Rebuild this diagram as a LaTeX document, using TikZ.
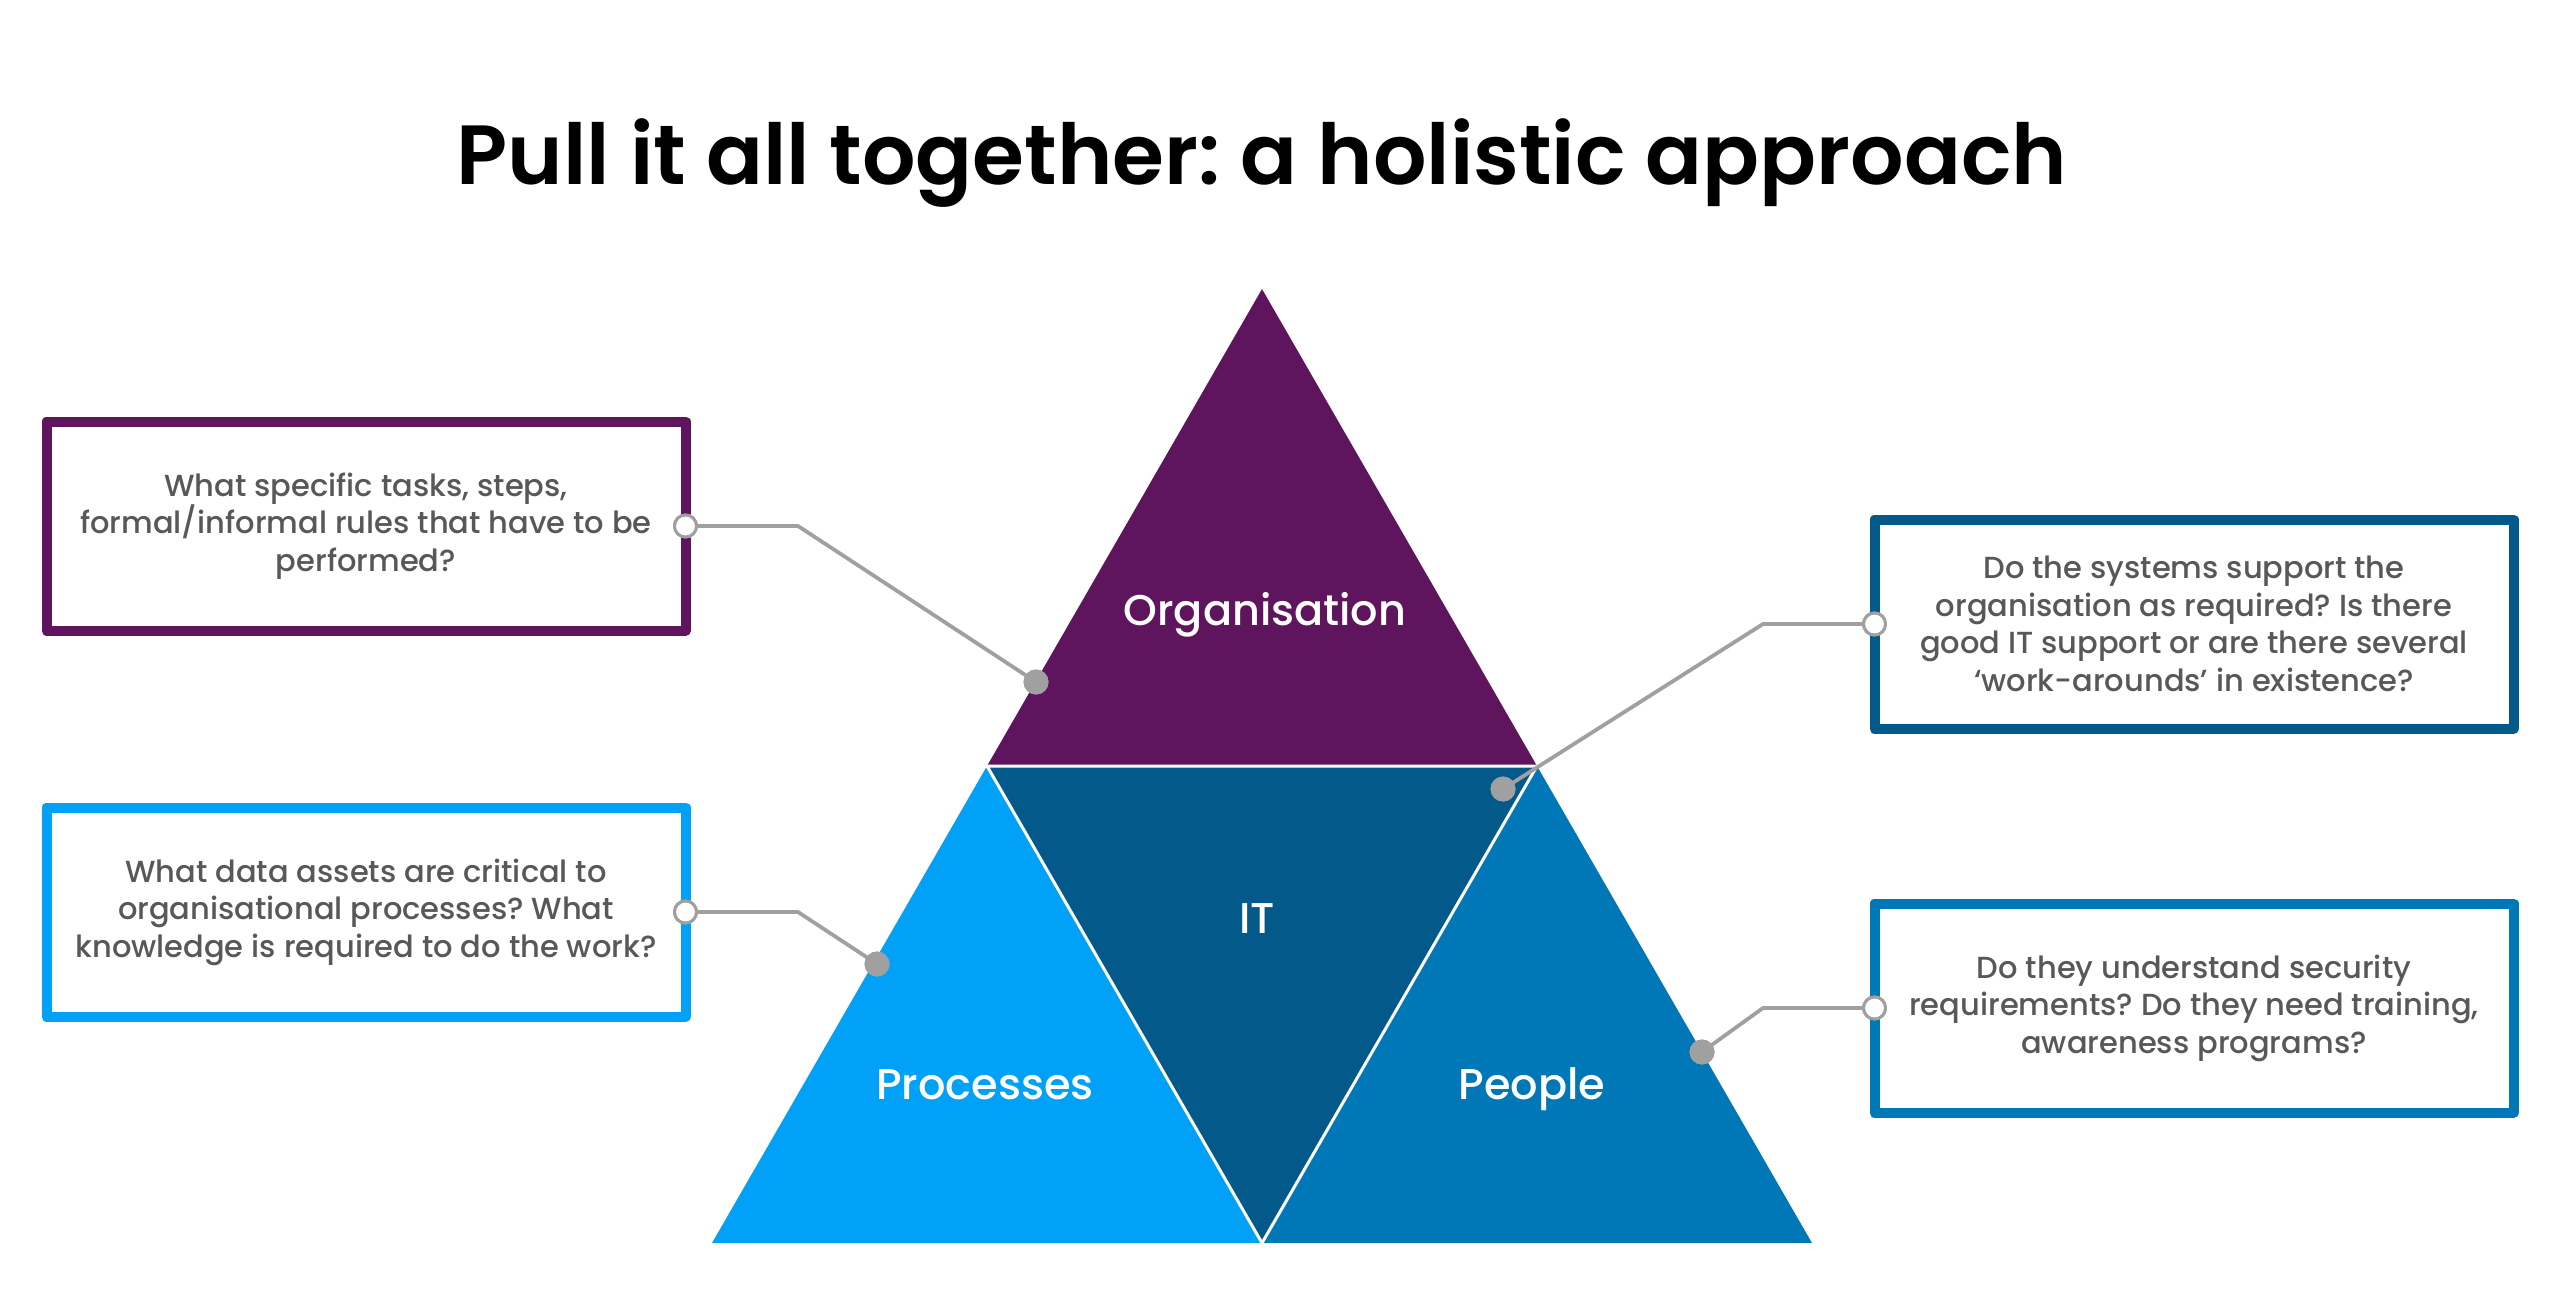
\documentclass[tikz,border=0pt]{standalone}
\usepackage{fontspec}
\setmainfont{Poppins Medium}
\newfontfamily\dam{Poppins SemiBold}
\frenchspacing
\definecolor{tim}{RGB}{95,21,93}
\definecolor{xanhit}{RGB}{3,89,138}
\definecolor{xanhnhat}{RGB}{0,161,246}
\definecolor{xanhdam}{RGB}{0,119,182}
\definecolor{xam}{RGB}{160,160,160}
\definecolor{chu}{RGB}{88,88,90}
\begin{document}
\begin{tikzpicture}[x=1pt,y=-1pt,line join=round,line cap=round]
	\tikzset{hop/.style={draw=#1,line width=10pt,fill=white,minimum width=639pt,minimum height=209pt,
			align=center,text=chu,font=\fontsize{30.5}{37.5}\selectfont,inner sep=0pt,outer sep=0pt},
		nhan/.style={text=white,anchor=base,font=\fontsize{43}{50}\selectfont},
		day/.style={draw=xam,line width=3.8pt},
		cham/.style={fill=xam,circle,minimum size=25pt,inner sep=0pt},
		vong/.style={draw=xam,fill=white,circle,line width=3pt,minimum size=22pt,inner sep=0pt}}
	\useasboundingbox(0,0)rectangle(2560,1295);
	%%% Tieu de
	\node[anchor=base](tieude)at(1262,184){\fontsize{84}{100}\selectfont\dam Pull it all together: a holistic approach};
	%%% Tam giac
	\coordinate(A)at(1262,289);
	\coordinate(B)at(987,766);
	\coordinate(C)at(1537,766);
	\coordinate(D)at(712,1243);
	\coordinate(E)at(1262,1243);
	\coordinate(F)at(1812,1243);
	\fill[tim](A)--(B)--(C)--cycle;
	\fill[xanhit](B)--(C)--(E)--cycle;
	\fill[xanhnhat](B)--(D)--(E)--cycle;
	\fill[xanhdam](C)--(E)--(F)--cycle;
	\draw[white,line width=3pt](B)--(C)--(E)--cycle;
	\node[nhan](org)at(1265,625){Organisation};
	\node[nhan](it)at(1257,933){IT};
	\node[nhan](pro)at(985,1099){Processes};
	\node[nhan](peo)at(1532,1099){People};
	%%% Hop chu
	\node[hop=tim](h1)at(366,526){What specific tasks, steps,\\formal/informal rules that have to be\\performed?};
	\node[hop=xanhnhat](h2)at(366,912){What data assets are critical to\\organisational processes? What\\knowledge is required to do the work?};
	\node[hop=xanhit](h3)at(2194,624){Do the systems support the\\organisation as required? Is there\\good IT support or are there several\\‘work-arounds’ in existence?};
	\node[hop=xanhdam](h4)at(2194,1008){Do they understand security\\requirements? Do they need training,\\awareness programs?};
	%%% Day noi
	\node[cham](d1)at(1036,682){};
	\node[cham](d2)at(877,964){};
	\node[cham](d3)at(1503,789){};
	\node[cham](d4)at(1702,1052){};
	\node[vong](v1)at(h1.east){};
	\node[vong](v2)at(h2.east){};
	\node[vong](v3)at(h3.west){};
	\node[vong](v4)at(h4.west){};
	\draw[day](v1.east)--++(100,0)--(d1.center);
	\draw[day](v2.east)--++(100,0)--(d2.center);
	\draw[day](v3.west)--++(-99,0)--(d3.center);
	\draw[day](v4.west)--++(-99,0)--(d4.center);
	\foreach \i in{1,...,4}{\node[cham]at(d\i){};\node[vong]at(v\i){};}
\end{tikzpicture}
\end{document}
